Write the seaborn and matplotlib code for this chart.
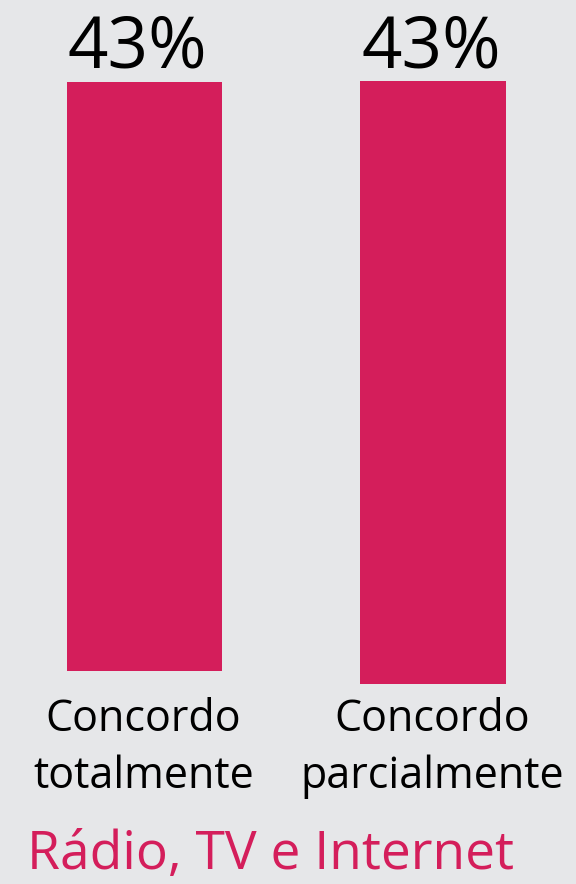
import matplotlib
matplotlib.use("Agg")
import matplotlib.pyplot as plt
import seaborn as sns
import pandas as pd

categories = ["Concordo\ntotalmente", "Concordo\nparcialmente"]
values = [43, 43]
title = "Rádio, TV e Internet"

BG = "#e6e7e9"
BAR = "#d41e5b"
FONT = ["Open Sans", "DejaVu Sans"]

sns.set_theme(style="white")
plt.rcParams["font.family"] = FONT

W, H = 576, 884
fig = plt.figure(figsize=(W / 100, H / 100), dpi=100, facecolor=BG)

# bar boxes in pixels (left, right, top, bottom)
boxes = [(66.7, 221.7, 81.7, 670.7), (360.0, 505.7, 81.0, 683.7)]

for cat, val, (l, r, t, b) in zip(categories, values, boxes):
    ax = fig.add_axes([l / W, 1 - b / H, (r - l) / W, (b - t) / H])
    df = pd.DataFrame({"cat": [cat], "val": [val]})
    sns.barplot(data=df, x="cat", y="val", ax=ax, color=BAR, saturation=1,
                width=1, linewidth=0, edgecolor="none")
    ax.set_xlim(-0.5, 0.5)
    ax.set_ylim(0, val)
    ax.set_facecolor("none")
    ax.axis("off")
    cx = (l + r) / 2
    fig.text(cx / W - 0.012 if cat.endswith("totalmente") else cx / W - 0.002,
             1 - 67.7 / H, f"{val}%", ha="center", va="baseline",
             fontsize=51, color="black")
    lines = cat.split("\n")
    for i, line in enumerate(lines):
        fig.text(cx / W - 0.001, 1 - (731 + 57 * i) / H, line, ha="center",
                 va="baseline", fontsize=31, color="black")

t = fig.text(27 / W, 1 - 869 / H, title, ha="left", va="baseline",
             fontsize=46, color=BAR)
renderer = fig.canvas.get_renderer()
wpx = t.get_window_extent(renderer).width
t.set_fontsize(46 * 486 / wpx)

fig.savefig("out.png", dpi=100, facecolor=BG)
